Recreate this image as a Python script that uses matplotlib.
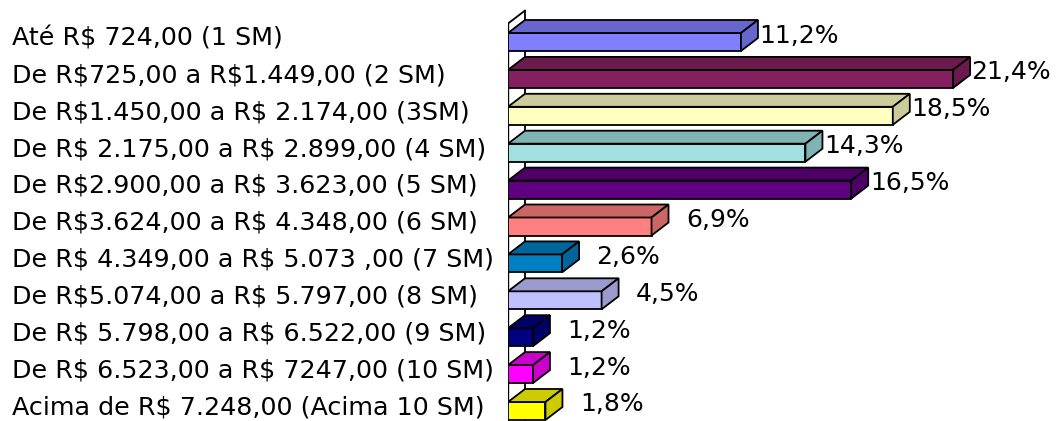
import matplotlib
matplotlib.use('Agg')
import matplotlib.pyplot as plt
import matplotlib.transforms as mtransforms
from matplotlib.patches import Polygon, Rectangle

plt.rcParams['text.parse_math'] = False
plt.rcParams['font.family'] = ['DejaVu Sans']

# dados
categorias = [
    'Até R$ 724,00 (1 SM)',
    'De R$725,00 a R$1.449,00 (2 SM)',
    'De R$1.450,00 a R$ 2.174,00 (3SM)',
    'De R$ 2.175,00 a R$ 2.899,00 (4 SM)',
    'De R$2.900,00 a R$ 3.623,00 (5 SM)',
    'De R$3.624,00 a R$ 4.348,00 (6 SM)',
    'De R$ 4.349,00 a R$ 5.073 ,00 (7 SM)',
    'De R$5.074,00 a R$ 5.797,00 (8 SM)',
    'De R$ 5.798,00 a R$ 6.522,00 (9 SM)',
    'De R$ 6.523,00 a R$ 7247,00 (10 SM)',
    'Acima de R$ 7.248,00 (Acima 10 SM)',
]
valores = [11.2, 21.4, 18.5, 14.3, 16.5, 6.9, 2.6, 4.5, 1.2, 1.2, 1.8]
rotulos = ['11,2%', '21,4%', '18,5%', '14,3%', '16,5%', '6,9%', '2,6%', '4,5%', '1,2%', '1,2%', '1,8%']
cores = ['#8080FF', '#842060', '#FFFFC0', '#A0E0E0', '#600080', '#FF8080',
         '#0080C0', '#C0C0FF', '#000080', '#FF00FF', '#FFFF00']


def escurece(c, f=0.8):
    r, g, b = matplotlib.colors.to_rgb(c)
    return (r * f, g * f, b * f)


W, H = 1059, 421
fig = plt.figure(figsize=(W / 100, H / 100), dpi=100)
px_x = 20.8   # pixels por %
px_y = 36.9   # pixels por categoria
x0 = 508
ax = fig.add_axes([x0 / W, 0, (W - x0) / W, 1])
ax.set_xlim(0, (W - x0) / px_x)
ax.set_ylim((H - 42) / px_y, -42 / px_y)
ax.axis('off')

h = 9 / px_y          # meia altura da barra
dx = 17 / px_x        # profundidade
dy = -13 / px_y
lw = 1.3

# parede
ybot = (H - 42) / px_y + 0.5
wall = Polygon([(0, ybot), (0, -0.5), (dx, -0.5 + dy), (dx, ybot)], closed=True,
               facecolor='white', edgecolor='none', zorder=1)
ax.add_patch(wall)
ax.plot([0, 0], [-0.5, ybot], color='black', lw=1.7, zorder=2)
ax.plot([dx, dx], [-0.5 + dy, ybot], color='black', lw=lw, zorder=2)
ax.plot([0, dx], [-0.5, -0.5 + dy], color='black', lw=lw, zorder=2)

for i, (v, c) in enumerate(zip(valores, cores)):
    top = i - h
    bot = i + h
    ax.add_patch(Rectangle((0, top), v, 2 * h, facecolor=c, edgecolor='black', lw=lw, zorder=3))
    ax.add_patch(Polygon([(0, top), (v, top), (v + dx, top + dy), (dx, top + dy)], closed=True,
                         facecolor=escurece(c), edgecolor='black', lw=lw, zorder=3))
    ax.add_patch(Polygon([(v, top), (v, bot), (v + dx, bot + dy), (v + dx, top + dy)], closed=True,
                         facecolor=escurece(c), edgecolor='black', lw=lw, zorder=3))
    ax.text(v + dx + 81 / px_x, i + dy / 2, rotulos[i], ha='right', va='center',
            fontsize=18, color='black')

trans = mtransforms.blended_transform_factory(fig.transFigure, ax.transData)
for i, cat in enumerate(categorias):
    ax.text(12 / W, i - 0.1, cat, transform=trans, ha='left', va='center',
            fontsize=18.3, color='black')

fig.savefig('out.png', dpi=100)
